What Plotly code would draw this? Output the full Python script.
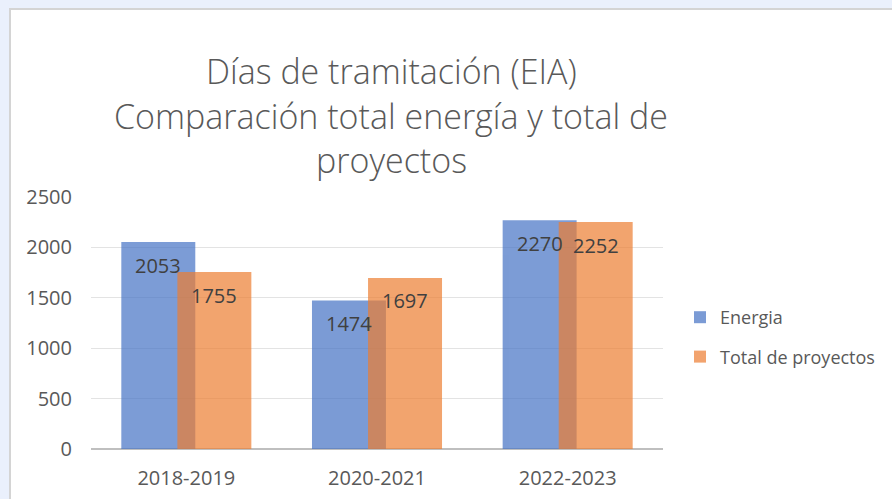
import plotly.graph_objects as go

categories = ["2018-2019", "2020-2021", "2022-2023"]
energia = [2053, 1474, 2270]
total_proyectos = [1755, 1697, 2252]
series_names = ["Energia", "Total de proyectos"]
title_lines = ["Días de tramitación (EIA)", "Comparación total energía y total de", "proyectos"]

FONT = "Open Sans"
W, H = 892, 499
ML, MR, MT, MB = 91, 229, 197, 50
PW = W - ML - MR
PH = H - MT - MB

def px_x(x):
    return (x - ML) / PW

def px_y(y):
    return (H - MB - y) / PH

fig = go.Figure()
fig.add_trace(go.Bar(
    x=categories, y=energia, name=series_names[0],
    marker=dict(color="#4472C4", line=dict(width=0)), opacity=0.7,
    width=0.388, offset=-0.341, legendgroup="a",
))
fig.add_trace(go.Bar(
    x=categories, y=total_proyectos, name=series_names[1],
    marker=dict(color="#ED7D31", line=dict(width=0)), opacity=0.7,
    width=0.388, offset=-0.047, legendgroup="b",
))

annotations = []
for vals, shift in ((energia, -28), (total_proyectos, 28)):
    for c, v in zip(categories, vals):
        annotations.append(dict(
            x=c, y=v, xref="x", yref="y", text=str(v), showarrow=False,
            xshift=shift, yshift=-23, yanchor="middle", xanchor="center",
            font=dict(family=FONT, size=20, color="#404040"),
        ))

title_y = [71, 116, 160]
for line, yy in zip(title_lines, title_y):
    annotations.append(dict(
        x=px_x(391), y=px_y(yy), xref="paper", yref="paper", text=line,
        showarrow=False, xanchor="center", yanchor="middle",
        font=dict(family=FONT, size=34, color="#595959", weight=300),
    ))

fig.update_layout(
    width=W, height=H,
    margin=dict(l=ML, r=MR, t=MT, b=MB, pad=0, autoexpand=False),
    paper_bgcolor="#eaf0fc",
    plot_bgcolor="white",
    barmode="overlay",
    showlegend=True,
    legend=dict(
        x=px_x(680), y=px_y(337), xanchor="left", yanchor="middle",
        font=dict(family=FONT, size=18, color="#595959"),
        bgcolor="rgba(0,0,0,0)", tracegroupgap=13,
    ),
    annotations=annotations,
    shapes=[dict(
        type="rect", xref="paper", yref="paper", layer="below",
        x0=px_x(10), x1=px_x(W + 10), y0=px_y(H + 10), y1=px_y(9),
        fillcolor="white", line=dict(color="#d4d4d4", width=2),
    )],
    xaxis=dict(
        type="category", range=[-0.5, 2.5], showgrid=False, automargin=False,
        showline=False, ticks="", ticklabelstandoff=15,
        tickfont=dict(family=FONT, size=20, color="#595959"),
    ),
    yaxis=dict(
        range=[0, 2500], dtick=500, showgrid=True, gridcolor="#e3e3e3", gridwidth=1,
        zeroline=True, zerolinecolor="#bfbfbf", zerolinewidth=2, automargin=False,
        ticks="", ticklabelstandoff=18,
        tickfont=dict(family=FONT, size=20, color="#595959"),
    ),
)

fig.write_html("out.html")
